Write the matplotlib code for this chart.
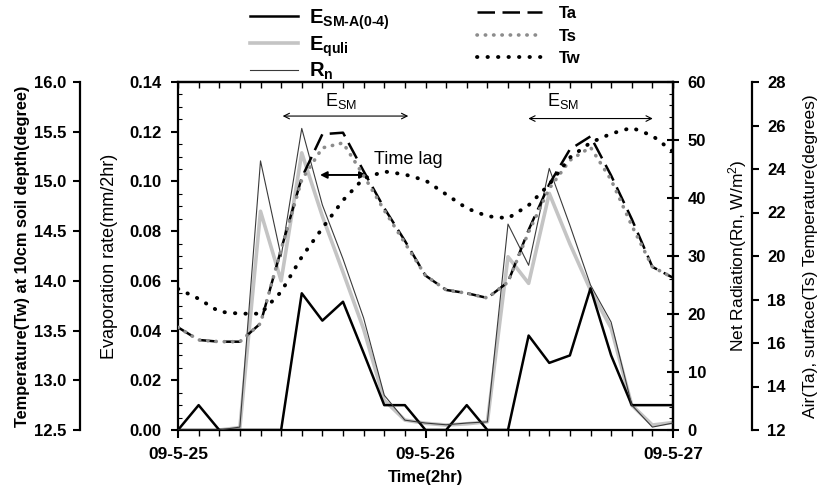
import numpy as np
import matplotlib
matplotlib.use('Agg')
import matplotlib.pyplot as plt
from matplotlib.ticker import MultipleLocator, FormatStrFormatter

plt.rcParams['font.family'] = ['Liberation Sans', 'DejaVu Sans']
plt.rcParams['mathtext.fontset'] = 'custom'
plt.rcParams['mathtext.rm'] = 'Liberation Sans'
plt.rcParams['mathtext.bf'] = 'Liberation Sans:bold'
plt.rcParams['mathtext.it'] = 'Liberation Sans:italic'

# 2-hourly time steps, 09-5-25 00h .. 09-5-27 00h
hours = np.arange(0, 49, 2)
day_ticks = [0, 24, 48]
day_labels = ['09-5-25', '09-5-26', '09-5-27']

# evaporation (mm/2hr)
e_sm = [0, 0.010, 0, 0, 0, 0, 0.055, 0.044, 0.0516, 0.031, 0.010, 0.010, 0,
        0, 0.010, 0, 0, 0.038, 0.027, 0.030, 0.057, 0.030, 0.010, 0.010, 0.010]
e_quli = [0, 0, 0, 0.001, 0.088, 0.060, 0.1115, 0.086, 0.0635, 0.0406, 0.012, 0.004, 0.0027,
          0.002, 0.0025, 0.0033, 0.0697, 0.059, 0.0952, 0.0749, 0.0563, 0.041, 0.010, 0.002, 0.003]
# net radiation (W/m2)
rn = [0, 0, 0, 0.5, 46.4, 29.9, 52.0, 38.8, 29.5, 19.3, 6.0, 1.7, 1.2,
      0.9, 1.2, 1.4, 35.5, 28.4, 45.1, 35.3, 25.0, 18.6, 4.3, 0.5, 1.2]
# air / surface temperature (deg)
ta = [16.72, 16.14, 16.06, 16.06, 16.9, 20.3, 23.6, 25.6, 25.67, 23.9, 22.2, 20.7, 19.1,
      18.44, 18.29, 18.07, 18.8, 21.2, 23.3, 24.9, 25.5, 23.7, 21.7, 19.5, 19.0]
ts = [16.72, 16.14, 16.06, 16.06, 16.9, 20.3, 23.5, 24.97, 25.2, 23.7, 22.1, 20.6, 19.1,
      18.44, 18.29, 18.07, 18.8, 21.1, 23.1, 24.4, 25.0, 23.5, 21.4, 19.5, 19.0]
# soil temperature at 10cm (deg)
tw = [13.92, 13.82, 13.69, 13.67, 13.67, 13.89, 14.24, 14.53, 14.81, 15.03, 15.10, 15.07, 15.01,
      14.87, 14.73, 14.65, 14.63, 14.76, 14.97, 15.24, 15.39, 15.48, 15.54, 15.46, 15.30]

fig = plt.figure(figsize=(8.19, 4.92), dpi=100)
ax = fig.add_axes([178/819, 1-430/492, 495/819, 348/492])
ax_rn = ax.twinx()
ax_ta = ax.twinx()
ax_tw = ax.twinx()

fs = 12

# evaporation axis
l1, = ax.plot(hours, e_sm, color='black', lw=1.8, zorder=5)
l2, = ax.plot(hours, e_quli, color='#c4c4c4', lw=2.6, zorder=4)
ax.set_xlim(0, 48)
ax.set_ylim(0, 0.14)
ax.yaxis.set_major_locator(MultipleLocator(0.02))
ax.yaxis.set_minor_locator(MultipleLocator(0.005))
ax.yaxis.set_major_formatter(FormatStrFormatter('%.2f'))
ax.set_xticks(day_ticks)
ax.set_xticklabels(day_labels, fontsize=12.5, fontweight='bold')
ax.xaxis.set_minor_locator(MultipleLocator(2))
ax.tick_params(axis='x', which='major', direction='out', length=6, width=1.5, pad=6)
ax.tick_params(axis='x', which='minor', direction='out', length=4, width=1.0)
ax.tick_params(axis='y', which='major', direction='out', length=5, width=1.5,
               labelsize=fs, pad=7)
ax.tick_params(axis='y', which='minor', direction='in', length=3, width=0.8)
for t in ax.get_yticklabels():
    t.set_fontweight('bold')
ax.set_xlabel('Time(2hr)', fontsize=12, fontweight='bold', labelpad=6)
ax.set_ylabel('Evaporation rate(mm/2hr)', fontsize=13)
ax.yaxis.set_label_coords(-0.122, 0.5)
for s in ax.spines.values():
    s.set_linewidth(1.6)
    s.set_zorder(10)
top = ax.secondary_xaxis('top')
top.set_xticks(day_ticks)
top.xaxis.set_minor_locator(MultipleLocator(2))
top.tick_params(which='both', direction='in', labeltop=False, length=4, width=1.0)
top.spines['top'].set_linewidth(1.6)

# net radiation axis
l3, = ax_rn.plot(hours, rn, color='#3a3a3a', lw=0.8, zorder=3)
ax_rn.set_ylim(0, 60)
ax_rn.yaxis.set_major_locator(MultipleLocator(10))
ax_rn.yaxis.set_minor_locator(MultipleLocator(2))
ax_rn.tick_params(axis='y', which='major', direction='inout', length=9, width=1.5,
                  labelsize=fs, pad=6)
ax_rn.tick_params(axis='y', which='minor', direction='in', length=3, width=0.8)
for t in ax_rn.get_yticklabels():
    t.set_fontweight('bold')
ax_rn.set_ylabel('Net Radiation(Rn, W/m$^2$)', fontsize=12.5)
ax_rn.yaxis.set_label_coords(1.108, 0.5)
for k in ['left', 'top', 'bottom']:
    ax_rn.spines[k].set_visible(False)
ax_rn.spines['right'].set_linewidth(1.6)

# air / surface temperature axis
l4, = ax_ta.plot(hours, ta, color='black', lw=1.8, dashes=(7, 3), zorder=3)
l5, = ax_ta.plot(hours, ts, color='#8c8c8c', lw=2.6, dashes=(0.1, 2.2),
                 dash_capstyle='round', zorder=3)
ax_ta.set_ylim(12, 28)
ax_ta.yaxis.set_major_locator(MultipleLocator(2))
ax_ta.spines['right'].set_position(('axes', 1 + 79/495))
for k in ['left', 'top', 'bottom']:
    ax_ta.spines[k].set_visible(False)
ax_ta.spines['right'].set_linewidth(1.6)
ax_ta.tick_params(axis='y', direction='out', length=5, width=1.5, labelsize=fs, pad=6)
for t in ax_ta.get_yticklabels():
    t.set_fontweight('bold')
ax_ta.set_ylabel('Air(Ta), surface(Ts) Temperature(degrees)', fontsize=12.5)
ax_ta.yaxis.set_label_coords(1.262, 0.5)

# soil temperature axis (outer left)
l6, = ax_tw.plot(hours, tw, color='black', lw=2.8, dashes=(0.1, 2.6),
                 dash_capstyle='round', zorder=3)
ax_tw.set_ylim(12.5, 16.0)
ax_tw.yaxis.set_major_locator(MultipleLocator(0.5))
ax_tw.yaxis.set_major_formatter(FormatStrFormatter('%.1f'))
ax_tw.yaxis.tick_left()
ax_tw.yaxis.set_label_position('left')
for k in ['right', 'top', 'bottom']:
    ax_tw.spines[k].set_visible(False)
ax_tw.spines['left'].set_visible(True)
ax_tw.spines['left'].set_position(('axes', -98/495))
ax_tw.spines['left'].set_linewidth(1.6)
ax_tw.tick_params(axis='y', direction='out', length=5, width=1.5, labelsize=fs, pad=5)
for t in ax_tw.get_yticklabels():
    t.set_fontweight('bold')
ax_tw.set_ylabel('Temperature(Tw) at 10cm soil depth(degree)', fontsize=11.8,
                 fontweight='bold')
ax_tw.yaxis.set_label_coords(-0.298, 0.5)

# annotations
arr_thin = dict(arrowstyle='<->', lw=0.8, color='black', shrinkA=0, shrinkB=0)
ax.annotate('', xy=(10.15, 0.1263), xytext=(22.33, 0.1263), arrowprops=arr_thin)
ax.text(15.8, 0.1325, r'E$_{\mathrm{SM}}$', fontsize=13, ha='center', va='center')
ax.annotate('', xy=(33.97, 0.1253), xytext=(46.04, 0.1253), arrowprops=arr_thin)
ax.text(37.3, 0.1322, r'E$_{\mathrm{SM}}$', fontsize=13, ha='center', va='center')
ax.annotate('', xy=(13.77, 0.1026), xytext=(18.3, 0.1026),
            arrowprops=dict(arrowstyle='<|-|>', lw=1.4, color='black',
                            shrinkA=0, shrinkB=0, mutation_scale=10))
ax.text(19.0, 0.1088, 'Time lag', fontsize=13, ha='left', va='center')

# legends
hy = '\u2010'
leg1 = fig.legend([l1, l2, l3],
                  [r'$\mathbf{E_{SM' + hy + 'A(0' + hy + '4)}}$',
                   r'$\mathbf{E_{quli}}$', r'$\mathbf{R_n}$'],
                  loc='upper left', bbox_to_anchor=(232/819, 1.022), frameon=False,
                  handlelength=2.4, handletextpad=0.5, fontsize=14.5, labelspacing=0.12)
leg2 = fig.legend([l4, l5, l6], ['Ta', 'Ts', 'Tw'],
                  loc='upper left', bbox_to_anchor=(462/819, 1.018), frameon=False,
                  handlelength=3.9, handletextpad=1.0, labelspacing=0.45,
                  prop={'weight': 'bold', 'size': 12})

fig.savefig('out.png', dpi=100)
